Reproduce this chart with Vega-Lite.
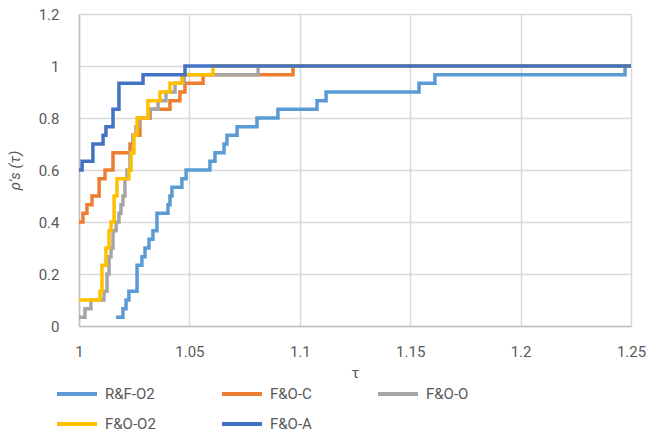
{
  "$schema": "https://vega.github.io/schema/vega-lite/v6.json",
  "width": 552,
  "height": 312,
  "autosize": {"type": "none"},
  "padding": {"left": 79, "top": 14, "right": 30, "bottom": 107},
  "background": "white",
  "config": {
    "view": {"stroke": null},
    "font": "Roboto",
    "axis": {"labelColor": "#595959", "titleColor": "#595959", "labelFontSize": 15, "titleFontSize": 15, "titleFontWeight": "normal", "gridColor": "#D9D9D9", "gridWidth": 1.5, "domainColor": "#BFBFBF", "domainWidth": 1.5, "ticks": false}
  },
  "data": {"values": [
    {"s": "R&F-O2", "t": 1.0168, "r": 0.0333},
    {"s": "R&F-O2", "t": 1.0199, "r": 0.0667},
    {"s": "R&F-O2", "t": 1.0213, "r": 0.1},
    {"s": "R&F-O2", "t": 1.0226, "r": 0.1333},
    {"s": "R&F-O2", "t": 1.0263, "r": 0.2333},
    {"s": "R&F-O2", "t": 1.0285, "r": 0.2667},
    {"s": "R&F-O2", "t": 1.0299, "r": 0.3},
    {"s": "R&F-O2", "t": 1.0317, "r": 0.3333},
    {"s": "R&F-O2", "t": 1.0335, "r": 0.3667},
    {"s": "R&F-O2", "t": 1.0353, "r": 0.4333},
    {"s": "R&F-O2", "t": 1.0403, "r": 0.4667},
    {"s": "R&F-O2", "t": 1.0412, "r": 0.5},
    {"s": "R&F-O2", "t": 1.0421, "r": 0.5333},
    {"s": "R&F-O2", "t": 1.0466, "r": 0.5667},
    {"s": "R&F-O2", "t": 1.0485, "r": 0.6},
    {"s": "R&F-O2", "t": 1.0593, "r": 0.6333},
    {"s": "R&F-O2", "t": 1.0616, "r": 0.6667},
    {"s": "R&F-O2", "t": 1.0657, "r": 0.7},
    {"s": "R&F-O2", "t": 1.067, "r": 0.7333},
    {"s": "R&F-O2", "t": 1.0716, "r": 0.7667},
    {"s": "R&F-O2", "t": 1.0806, "r": 0.8},
    {"s": "R&F-O2", "t": 1.0901, "r": 0.8333},
    {"s": "R&F-O2", "t": 1.1078, "r": 0.8667},
    {"s": "R&F-O2", "t": 1.1119, "r": 0.9},
    {"s": "R&F-O2", "t": 1.154, "r": 0.9333},
    {"s": "R&F-O2", "t": 1.1612, "r": 0.9667},
    {"s": "R&F-O2", "t": 1.2473, "r": 1.0},
    {"s": "R&F-O2", "t": 1.25, "r": 1.0},
    {"s": "F&O-C", "t": 1.0, "r": 0.4},
    {"s": "F&O-C", "t": 1.0018, "r": 0.4333},
    {"s": "F&O-C", "t": 1.0036, "r": 0.4667},
    {"s": "F&O-C", "t": 1.0059, "r": 0.5},
    {"s": "F&O-C", "t": 1.0091, "r": 0.5667},
    {"s": "F&O-C", "t": 1.0118, "r": 0.6},
    {"s": "F&O-C", "t": 1.0154, "r": 0.6667},
    {"s": "F&O-C", "t": 1.0231, "r": 0.7},
    {"s": "F&O-C", "t": 1.0245, "r": 0.7333},
    {"s": "F&O-C", "t": 1.0276, "r": 0.8},
    {"s": "F&O-C", "t": 1.0322, "r": 0.8333},
    {"s": "F&O-C", "t": 1.0412, "r": 0.8667},
    {"s": "F&O-C", "t": 1.0457, "r": 0.9},
    {"s": "F&O-C", "t": 1.048, "r": 0.9333},
    {"s": "F&O-C", "t": 1.0562, "r": 0.9667},
    {"s": "F&O-C", "t": 1.0969, "r": 1.0},
    {"s": "F&O-C", "t": 1.25, "r": 1.0},
    {"s": "F&O-O", "t": 1.0, "r": 0.0333},
    {"s": "F&O-O", "t": 1.0027, "r": 0.0667},
    {"s": "F&O-O", "t": 1.0054, "r": 0.1},
    {"s": "F&O-O", "t": 1.0113, "r": 0.1333},
    {"s": "F&O-O", "t": 1.0127, "r": 0.2},
    {"s": "F&O-O", "t": 1.0136, "r": 0.2667},
    {"s": "F&O-O", "t": 1.0145, "r": 0.3},
    {"s": "F&O-O", "t": 1.0154, "r": 0.3667},
    {"s": "F&O-O", "t": 1.0168, "r": 0.4},
    {"s": "F&O-O", "t": 1.0181, "r": 0.4333},
    {"s": "F&O-O", "t": 1.019, "r": 0.4667},
    {"s": "F&O-O", "t": 1.0199, "r": 0.5},
    {"s": "F&O-O", "t": 1.0208, "r": 0.5667},
    {"s": "F&O-O", "t": 1.0217, "r": 0.6},
    {"s": "F&O-O", "t": 1.0231, "r": 0.6667},
    {"s": "F&O-O", "t": 1.0245, "r": 0.7333},
    {"s": "F&O-O", "t": 1.0258, "r": 0.7667},
    {"s": "F&O-O", "t": 1.0272, "r": 0.8},
    {"s": "F&O-O", "t": 1.0317, "r": 0.8333},
    {"s": "F&O-O", "t": 1.0358, "r": 0.8667},
    {"s": "F&O-O", "t": 1.0394, "r": 0.9},
    {"s": "F&O-O", "t": 1.0435, "r": 0.9333},
    {"s": "F&O-O", "t": 1.0476, "r": 0.9667},
    {"s": "F&O-O", "t": 1.0811, "r": 1.0},
    {"s": "F&O-O", "t": 1.25, "r": 1.0},
    {"s": "F&O-O2", "t": 1.0, "r": 0.1},
    {"s": "F&O-O2", "t": 1.0095, "r": 0.1333},
    {"s": "F&O-O2", "t": 1.0104, "r": 0.2333},
    {"s": "F&O-O2", "t": 1.0122, "r": 0.3},
    {"s": "F&O-O2", "t": 1.0136, "r": 0.3667},
    {"s": "F&O-O2", "t": 1.0145, "r": 0.4},
    {"s": "F&O-O2", "t": 1.0159, "r": 0.5},
    {"s": "F&O-O2", "t": 1.0172, "r": 0.5667},
    {"s": "F&O-O2", "t": 1.0226, "r": 0.6},
    {"s": "F&O-O2", "t": 1.0236, "r": 0.6667},
    {"s": "F&O-O2", "t": 1.0249, "r": 0.7333},
    {"s": "F&O-O2", "t": 1.0263, "r": 0.8},
    {"s": "F&O-O2", "t": 1.0312, "r": 0.8667},
    {"s": "F&O-O2", "t": 1.0367, "r": 0.9},
    {"s": "F&O-O2", "t": 1.0412, "r": 0.9333},
    {"s": "F&O-O2", "t": 1.0466, "r": 0.9667},
    {"s": "F&O-O2", "t": 1.0607, "r": 1.0},
    {"s": "F&O-O2", "t": 1.25, "r": 1.0},
    {"s": "F&O-A", "t": 1.0, "r": 0.6},
    {"s": "F&O-A", "t": 1.0014, "r": 0.6333},
    {"s": "F&O-A", "t": 1.0063, "r": 0.7},
    {"s": "F&O-A", "t": 1.0109, "r": 0.7333},
    {"s": "F&O-A", "t": 1.0122, "r": 0.7667},
    {"s": "F&O-A", "t": 1.0154, "r": 0.8333},
    {"s": "F&O-A", "t": 1.0181, "r": 0.9333},
    {"s": "F&O-A", "t": 1.029, "r": 0.9667},
    {"s": "F&O-A", "t": 1.048, "r": 1.0},
    {"s": "F&O-A", "t": 1.25, "r": 1.0}
  ]},
  "mark": {"type": "line", "interpolate": "step-after", "strokeWidth": 3.5, "clip": true},
  "encoding": {
    "x": {"field": "t", "type": "quantitative", "title": "τ",
      "scale": {"domain": [1, 1.25], "nice": false, "zero": false},
      "axis": {"values": [1, 1.05, 1.1, 1.15, 1.2, 1.25], "format": "~g", "labelPadding": 18, "titlePadding": 6, "labelFlush": false}},
    "y": {"field": "r", "type": "quantitative", "title": "ρ's (τ)",
      "scale": {"domain": [0, 1.2], "nice": false},
      "axis": {"values": [0, 0.2, 0.4, 0.6, 0.8, 1, 1.2], "format": "~g", "labelPadding": 20, "titlePadding": 16, "titleFontStyle": "italic", "labelFlush": false}},
    "color": {"field": "s", "type": "nominal",
      "scale": {"domain": ["R&F-O2", "F&O-C", "F&O-O", "F&O-O2", "F&O-A"], "range": ["#5B9BD5", "#ED7D31", "#A5A5A5", "#FFC000", "#4472C4"]},
      "legend": {"title": null, "orient": "none", "legendX": -24, "legendY": 358, "direction": "horizontal", "columns": 3, "columnPadding": 58, "rowPadding": -18, "symbolType": "stroke", "symbolSize": 1600, "symbolStrokeWidth": 4, "labelFontSize": 15, "labelColor": "#595959", "labelOffset": 6}}
  }
}
